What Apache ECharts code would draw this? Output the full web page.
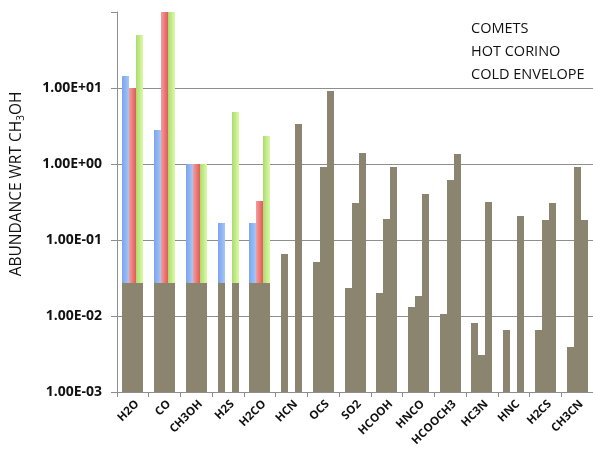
<!DOCTYPE html>
<html>
<head>
<meta charset="utf-8">
<script src="https://cdn.jsdelivr.net/npm/echarts@6/dist/echarts.min.js"></script>
<style>
  html, body { margin: 0; padding: 0; background: #ffffff; }
  #chart { width: 593px; height: 453px; }
</style>
</head>
<body>
<div id="chart"></div>
<script>
// Molecules on the x axis
const molecules = ['H2O', 'CO', 'CH3OH', 'H2S', 'H2CO', 'HCN', 'OCS', 'SO2', 'HCOOH',
  'HNCO', 'HCOOCH3', 'HC3N', 'HNC', 'H2CS', 'CH3CN'];

// Abundances relative to CH3OH (null = not measured)
const comets = [14.3, 2.8, 1, 0.168, 0.168, 0.0655, 0.0519, 0.0236, 0.0199,
  0.0133, 0.0106, 0.0080, 0.00655, 0.00655, 0.00395];
const hotCorino = [10, 100, 1, null, 0.33, null, 0.92, 0.31, 0.187,
  0.0183, 0.615, 0.0031, null, 0.183, 0.92];
const coldEnvelope = [50, 100, 1, 4.9, 2.33, 3.36, 9.2, 1.38, 0.92,
  0.40, 1.355, 0.319, 0.209, 0.303, 0.183];

// Only the first molecules are shown in colour; the lower band of those
// bars and every other bar are drawn in the neutral tone.
const colouredCount = 5;
const neutralBand = 0.027;

// Decade labels of the log axis, from 1e-3 upwards
const yTickLabels = ['1.00E-03', '1.00E-02', '1.00E-01', '1.00E+00', '1.00E+01', ''];

const seriesNames = ['COMETS', 'HOT CORINO', 'COLD ENVELOPE'];
const seriesData = [comets, hotCorino, coldEnvelope];

const Y_MIN = 0.001;
const Y_MAX = 100;
const BAR_W = 7;
const NEUTRAL = '#8b846f';
const gradients = [
  ['#78a6ee', '#a6c6f6'],
  ['#f59c9c', '#e25a5a'],
  ['#acdb6e', '#dcfaa6']
];

function hGrad(c) {
  return new echarts.graphic.LinearGradient(0, 0, 1, 0, [
    { offset: 0, color: c[0] }, { offset: 1, color: c[1] }
  ]);
}

// Bars grow from the bottom of the log axis; slot k of 3 within each category.
function barRenderer(slot, fill) {
  return function (params, api) {
    const idx = api.value(0);
    const val = api.value(1);
    const top = api.coord([idx, val]);
    const base = api.coord([idx, Y_MIN]);
    const left = Math.round(top[0] - 1.5 * BAR_W) + slot * BAR_W;
    const y0 = Math.round(top[1]);
    const y1 = Math.round(base[1]);
    return {
      type: 'rect',
      shape: { x: left, y: y0, width: BAR_W, height: y1 - y0 },
      style: { fill: fill }
    };
  };
}

function toPairs(values, pick) {
  const out = [];
  values.forEach((v, i) => {
    const p = pick(v, i);
    if (p != null) out.push([i, p]);
  });
  return out;
}

const FONT = '"Open Sans", "Liberation Sans", sans-serif';
const GRID_GREY = '#8e8e8e';

const series = [];
seriesData.forEach((values, k) => {
  const grad = hGrad(gradients[k]);
  series.push({
    name: seriesNames[k],
    type: 'custom',
    renderItem: barRenderer(k, grad),
    itemStyle: { color: gradients[k][1] },
    encode: { x: 0, y: 1 },
    data: toPairs(values, (v, i) => (i < colouredCount ? v : null)),
    z: 2
  });
});
seriesData.forEach((values, k) => {
  series.push({
    name: seriesNames[k] + ' base',
    type: 'custom',
    renderItem: barRenderer(k, NEUTRAL),
    itemStyle: { color: NEUTRAL },
    encode: { x: 0, y: 1 },
    data: toPairs(values, (v, i) => (v == null ? null : (i < colouredCount ? Math.min(v, neutralBand) : v))),
    z: 3
  });
});

const chart = echarts.init(document.getElementById('chart'), null, { renderer: 'canvas' });
chart.setOption({
  animation: false,
  backgroundColor: '#ffffff',
  grid: { left: 117, right: -4, top: 12, bottom: 61, containLabel: false },
  legend: {
    data: seriesNames,
    orient: 'vertical',
    left: 461,
    top: 12,
    itemWidth: 0,
    itemHeight: 0,
    itemGap: 0,
    selectedMode: false,
    itemStyle: { opacity: 0 },
    textStyle: { fontFamily: FONT, fontSize: 14.5, color: '#111111', lineHeight: 23 }
  },
  xAxis: {
    type: 'category',
    data: molecules,
    boundaryGap: true,
    axisLine: { lineStyle: { color: GRID_GREY, width: 1 } },
    axisTick: { show: true, length: 5, lineStyle: { color: GRID_GREY } },
    axisLabel: {
      rotate: 45,
      interval: 0,
      margin: 6,
      verticalAlign: 'top',
      fontFamily: FONT,
      fontWeight: 'bold',
      fontSize: 11.5,
      color: '#111111'
    },
    splitLine: { show: false }
  },
  yAxis: {
    type: 'log',
    logBase: 10,
    min: Y_MIN,
    max: Y_MAX,
    axisLine: { show: true, lineStyle: { color: GRID_GREY, width: 1 } },
    axisTick: { show: true, length: 6, lineStyle: { color: GRID_GREY } },
    axisLabel: {
      margin: 15,
      fontFamily: FONT,
      fontWeight: 'bold',
      fontSize: 14,
      color: '#111111',
      formatter: v => {
        const idx = Math.round(Math.log10(v)) + 3;
        return yTickLabels[idx] || '';
      }
    },
    splitLine: { show: true, showMaxLine: false, lineStyle: { color: GRID_GREY, width: 1 } }
  },
  graphic: [{
    type: 'text',
    x: 17,
    y: 184,
    rotation: Math.PI / 2,
    style: {
      text: '{t|ABUNDANCE WRT CH}{s|3}{t|OH}',
      align: 'center',
      verticalAlign: 'middle',
      fill: '#111111',
      rich: {
        t: { fontFamily: FONT, fontSize: 15.5, fill: '#111111', lineHeight: 20 },
        s: { fontFamily: FONT, fontSize: 10, fill: '#111111', padding: [8, 0, 0, 0], lineHeight: 20 }
      }
    }
  }],
  series: series
});
</script>
</body>
</html>
